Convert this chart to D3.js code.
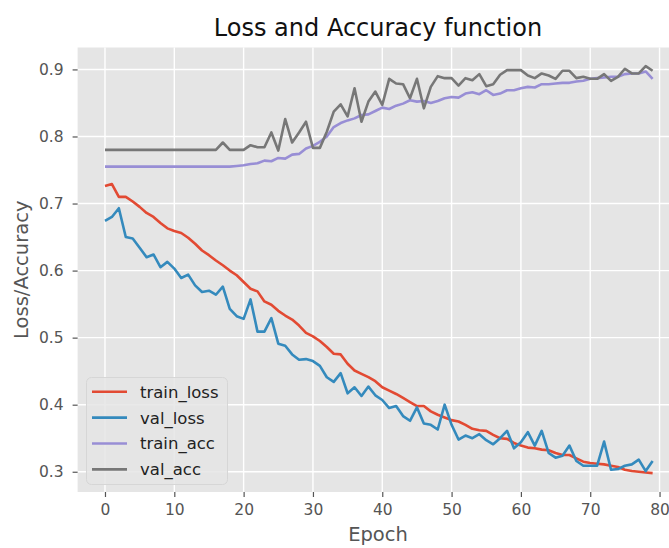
<!DOCTYPE html>
<html>
<head>
<meta charset="utf-8">
<script src="https://cdn.jsdelivr.net/npm/d3@7"></script>
<style>
  html, body { margin: 0; padding: 0; background: #ffffff; }
  svg { display: block; font-family: "DejaVu Sans", sans-serif; }
</style>
</head>
<body>
<svg id="chart" width="669" height="548"></svg>
<script>
// ---- data ----
const seriesNames = ["train_loss", "val_loss", "train_acc", "val_acc"];
const trainLoss = [0.726,0.729,0.710,0.710,0.703,0.695,0.686,0.680,0.671,0.663,
  0.659,0.656,0.649,0.640,0.630,0.623,0.615,0.608,0.600,0.593,
  0.583,0.573,0.569,0.554,0.549,0.540,0.533,0.527,0.518,0.507,
  0.502,0.495,0.486,0.476,0.475,0.461,0.451,0.446,0.441,0.435,
  0.426,0.421,0.416,0.410,0.404,0.398,0.398,0.390,0.385,0.381,
  0.377,0.375,0.370,0.364,0.362,0.361,0.355,0.350,0.349,0.343,
  0.339,0.336,0.335,0.333,0.332,0.328,0.325,0.325,0.320,0.315,
  0.313,0.312,0.311,0.309,0.307,0.303,0.301,0.300,0.299,0.298];
const valLoss = [0.674,0.680,0.693,0.650,0.648,0.634,0.620,0.624,0.605,0.613,
  0.603,0.589,0.594,0.578,0.568,0.570,0.564,0.576,0.543,0.532,
  0.528,0.557,0.509,0.509,0.529,0.491,0.488,0.475,0.467,0.468,
  0.465,0.458,0.441,0.434,0.447,0.417,0.426,0.413,0.427,0.414,
  0.407,0.395,0.398,0.383,0.376,0.396,0.372,0.370,0.363,0.400,
  0.370,0.348,0.354,0.350,0.356,0.347,0.341,0.350,0.361,0.335,
  0.344,0.359,0.339,0.361,0.328,0.321,0.324,0.339,0.316,0.309,
  0.309,0.309,0.345,0.303,0.304,0.309,0.311,0.318,0.301,0.316];
const trainAcc = [0.755,0.755,0.755,0.755,0.755,0.755,0.755,0.755,0.755,0.755,
  0.755,0.755,0.755,0.755,0.755,0.755,0.755,0.755,0.755,0.756,
  0.757,0.759,0.760,0.764,0.763,0.768,0.767,0.773,0.774,0.782,
  0.786,0.792,0.800,0.814,0.820,0.824,0.827,0.832,0.833,0.838,
  0.843,0.841,0.846,0.849,0.854,0.852,0.853,0.850,0.853,0.857,
  0.859,0.858,0.864,0.866,0.863,0.869,0.862,0.864,0.869,0.869,
  0.872,0.874,0.873,0.878,0.878,0.879,0.880,0.880,0.882,0.883,
  0.886,0.887,0.888,0.889,0.889,0.893,0.894,0.894,0.897,0.886];
const valAcc = [0.780,0.780,0.780,0.780,0.780,0.780,0.780,0.780,0.780,0.780,
  0.780,0.780,0.780,0.780,0.780,0.780,0.780,0.791,0.780,0.780,
  0.780,0.787,0.784,0.784,0.806,0.779,0.826,0.791,0.806,0.822,
  0.783,0.783,0.807,0.837,0.848,0.830,0.872,0.822,0.852,0.867,
  0.847,0.886,0.879,0.878,0.857,0.886,0.842,0.874,0.890,0.887,
  0.887,0.876,0.887,0.884,0.893,0.875,0.878,0.892,0.899,0.899,
  0.899,0.891,0.887,0.894,0.891,0.886,0.898,0.898,0.887,0.889,
  0.886,0.886,0.893,0.883,0.889,0.901,0.894,0.894,0.905,0.898];
const xTicks = [0, 10, 20, 30, 40, 50, 60, 70, 80];
const yTicks = [0.3, 0.4, 0.5, 0.6, 0.7, 0.8, 0.9];
const colors = ["#E24A33", "#348ABD", "#988ED5", "#777777"];

// ---- layout ----
const svg = d3.select("#chart");
const plot = { left: 77.6, right: 680, top: 47.5, bottom: 492 };
const x = d3.scaleLinear().domain([-3.95, 82.95]).range([plot.left, plot.right]);
const y = d3.scaleLinear().domain([0.2698, 0.9327]).range([plot.bottom, plot.top]);

svg.append("defs").append("clipPath").attr("id", "clip")
  .append("rect").attr("x", plot.left).attr("y", plot.top)
  .attr("width", plot.right - plot.left).attr("height", plot.bottom - plot.top);

svg.append("rect").attr("x", plot.left).attr("y", plot.top)
  .attr("width", plot.right - plot.left).attr("height", plot.bottom - plot.top)
  .attr("fill", "#E5E5E5");

// grid
const grid = svg.append("g");
grid.selectAll("line.vx").data(xTicks).join("line")
  .attr("x1", d => x(d)).attr("x2", d => x(d))
  .attr("y1", plot.top).attr("y2", plot.bottom)
  .attr("stroke", "#fff").attr("stroke-width", 1.4);
grid.selectAll("line.hy").data(yTicks).join("line")
  .attr("x1", plot.left).attr("x2", plot.right)
  .attr("y1", d => y(d)).attr("y2", d => y(d))
  .attr("stroke", "#fff").attr("stroke-width", 1.4);

// axes
const xAxis = svg.append("g").attr("transform", `translate(0,${plot.bottom})`)
  .call(d3.axisBottom(x).tickValues(xTicks).tickSize(5).tickPadding(7).tickFormat(d3.format("d")));
const yAxis = svg.append("g").attr("transform", `translate(${plot.left},0)`)
  .call(d3.axisLeft(y).tickValues(yTicks).tickSize(5).tickPadding(9).tickFormat(d3.format(".1f")));
[xAxis, yAxis].forEach(a => {
  a.select(".domain").remove();
  a.selectAll(".tick line").attr("stroke", "#555").attr("stroke-width", 1.2);
  a.selectAll(".tick text").attr("fill", "#555").attr("font-size", 15.5)
    .attr("font-family", "DejaVu Sans");
});

// lines
const series = [trainLoss, valLoss, trainAcc, valAcc];
const line = d3.line().x((d, i) => x(i)).y(d => y(d));
const lines = svg.append("g").attr("clip-path", "url(#clip)");
series.forEach((s, k) => {
  lines.append("path").datum(s).attr("d", line)
    .attr("fill", "none").attr("stroke", colors[k])
    .attr("stroke-width", 2.6).attr("stroke-linejoin", "round").attr("stroke-linecap", "butt");
});

// title & labels
svg.append("text").attr("x", 378).attr("y", 36).attr("text-anchor", "middle")
  .attr("font-size", 24).attr("fill", "#111").text("Loss and Accuracy function");
svg.append("text").attr("x", 378).attr("y", 541).attr("text-anchor", "middle")
  .attr("font-size", 19.5).attr("fill", "#555").text("Epoch");
svg.append("text").attr("transform", `translate(28,${(plot.top + plot.bottom) / 2}) rotate(-90)`)
  .attr("text-anchor", "middle").attr("font-size", 19.5).attr("fill", "#555").text("Loss/Accuracy");

// legend
const leg = svg.append("g");
leg.append("rect").attr("x", 86.5).attr("y", 377.5).attr("width", 141).attr("height", 107)
  .attr("rx", 5).attr("fill", "#E5E5E5").attr("fill-opacity", 0.85)
  .attr("stroke", "#d6d6d6").attr("stroke-width", 1);
seriesNames.forEach((name, k) => {
  const yy = 391.7 + k * 25.9;
  leg.append("line").attr("x1", 92).attr("x2", 127).attr("y1", yy).attr("y2", yy)
    .attr("stroke", colors[k]).attr("stroke-width", 2.6);
  leg.append("text").attr("x", 140).attr("y", yy).attr("dy", "0.36em")
    .attr("font-size", 16.5).attr("fill", "#222").text(name);
});
</script>
</body>
</html>
